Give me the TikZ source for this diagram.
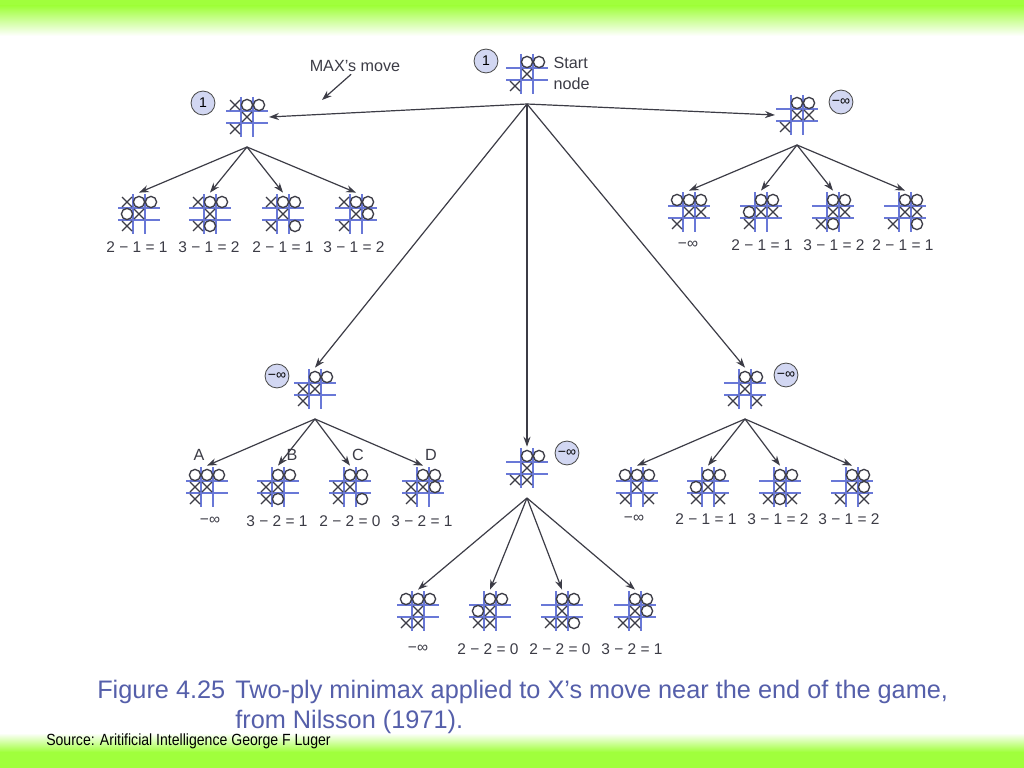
\documentclass[tikz,border=0pt]{standalone}
\usepackage{fontspec}
\setmainfont{Liberation Sans}
\usetikzlibrary{arrows.meta,positioning}
\definecolor{barGreen}{RGB}{160,255,60}
\definecolor{gridBlue}{RGB}{105,120,215}
\definecolor{inkGray}{RGB}{60,60,70}
\definecolor{capBlue}{RGB}{85,95,170}
\definecolor{discFill}{RGB}{210,215,242}
\tikzset{
  boardbox/.style={minimum width=31pt, minimum height=30pt, inner sep=0pt},
  gridline/.style={gridBlue, line width=0.9pt},
  markline/.style={inkGray, line width=0.95pt},
  edge/.style={inkGray, line width=0.85pt, -{Stealth[length=7pt,width=5pt]}},
  disc/.style={circle, draw=gray!60!black, fill=discFill, line width=0.6pt,
    minimum size=17pt, inner sep=0pt, font=\fontsize{10}{11}\selectfont},
  score/.style={inkGray, inner sep=1pt, font=\fontsize{11}{13}\selectfont},
  note/.style={inkGray, inner sep=1pt, font=\fontsize{11.5}{13}\selectfont},
  caption/.style={capBlue, inner sep=0pt, anchor=west, font=\fontsize{18}{21}\selectfont},
  pics/markx/.style={code={\draw[markline] (-5,-5) -- (5,5) (-5,5) -- (5,-5);}},
  pics/marko/.style={code={\draw[markline] (0,0) circle[radius=5.6];}},
  pics/markn/.style={code={}},
}
% board: name, x, y, nine cells (x, o or n) row by row
\newcommand{\tttboard}[4]{%
  \node[boardbox] (#1) at (#2,#3) {};
  \coordinate (#1-root) at (#2,#3+30);
  \begin{scope}[shift={(#2,#3)}]
    \draw[gridline] (-21,-6) -- (21,-6) (-21,6) -- (21,6)
      (-6,-20) -- (-6,20) (6,-20) -- (6,20);
    \foreach \m [count=\i from 0] in {#4}
      \pic at ({12*(mod(\i,3)-1)},{12*(int(\i/3)-1)}) {mark\m};
  \end{scope}}
\begin{document}
\begin{tikzpicture}[x=0.025cm,y=-0.025cm]
  \useasboundingbox (0,0) rectangle (1024,768);
  \fill[white] (0,0) rectangle (1024,768);
  \fill[barGreen] (0,0) rectangle (1024,6);
  \shade[top color=barGreen, bottom color=white] (0,6) rectangle (1024,36);
  \shade[top color=white, bottom color=barGreen] (0,733) rectangle (1024,752);
  \fill[barGreen] (0,752) rectangle (1024,768);

  % start node
  \tttboard{start}{527}{74}{n,o,o,n,x,n,x,n,n}
  \node[disc] (startval) at (486,61) {1};
  \node[note,anchor=west] (startlbl) at (552,63) {Start};
  \node[note,anchor=west] (nodelbl) at (552,84) {node};
  \node[note] (maxmove) at (355,66) {MAX's move};
  \coordinate (maxtip) at (322,100);
  \draw[edge,shorten <=1pt] ([xshift=-2pt]maxmove.south) -- (maxtip);

  % MAX's moves
  \tttboard{lmove}{247}{117}{x,o,o,n,x,n,x,n,n}
  \node[disc] (lval) at (203,103) {1};
  \tttboard{rmove}{797}{115}{n,o,o,n,x,x,x,n,n}
  \node[disc] (rval) at (841,102) {−∞};
  \tttboard{mleft}{315}{389}{n,o,o,x,x,n,x,n,n}
  \node[disc] (mlval) at (277,376) {−∞};
  \tttboard{mmid}{527}{468}{n,o,o,n,x,n,x,x,n}
  \node[disc] (mmval) at (567,453) {−∞};
  \tttboard{mright}{745}{389}{n,o,o,n,x,n,x,n,x}
  \node[disc] (mrval) at (786,375) {−∞};

  % MIN's replies
  \tttboard{la}{139}{214}{x,o,o,o,x,n,x,n,n}
  \tttboard{lb}{210}{214}{x,o,o,n,x,n,x,o,n}
  \tttboard{lc}{283}{214}{x,o,o,n,x,n,x,n,o}
  \tttboard{ld}{356}{214}{x,o,o,n,x,o,x,n,n}
  \node[score] (las) at (137,247) {2 − 1 = 1};
  \node[score] (lbs) at (209,247) {3 − 1 = 2};
  \node[score] (lcs) at (283,247) {2 − 1 = 1};
  \node[score] (lds) at (354,247) {3 − 1 = 2};

  \tttboard{ra}{689}{212}{o,o,o,n,x,x,x,n,n}
  \tttboard{rb}{761}{212}{n,o,o,o,x,x,x,n,n}
  \tttboard{rc}{833}{212}{n,o,o,n,x,x,x,o,n}
  \tttboard{rd}{905}{212}{n,o,o,n,x,x,x,n,o}
  \node[score] (ras) at (688,245) {−∞};
  \node[score] (rbs) at (762,245) {2 − 1 = 1};
  \node[score] (rcs) at (834,245) {3 − 1 = 2};
  \node[score] (rds) at (903,245) {2 − 1 = 1};

  \tttboard{ma}{207}{487}{o,o,o,x,x,n,x,n,n}
  \tttboard{mb}{278}{487}{n,o,o,x,x,n,x,o,n}
  \tttboard{mc}{350}{487}{n,o,o,x,x,n,x,n,o}
  \tttboard{md}{423}{487}{n,o,o,x,x,o,x,n,n}
  \node[note] (lettera) at (199,455) {A};
  \node[note] (letterb) at (292,455) {B};
  \node[note] (letterc) at (358,455) {C};
  \node[note] (letterd) at (431,455) {D};
  \node[score] (mas) at (210,521) {−∞};
  \node[score] (mbs) at (277,521) {3 − 2 = 1};
  \node[score] (mcs) at (350,521) {2 − 2 = 0};
  \node[score] (mds) at (422,521) {3 − 2 = 1};

  \tttboard{na}{418}{611}{o,o,o,n,x,n,x,x,n}
  \tttboard{nb}{490}{611}{n,o,o,o,x,n,x,x,n}
  \tttboard{nc}{562}{611}{n,o,o,n,x,n,x,x,o}
  \tttboard{nd}{635}{611}{n,o,o,n,x,o,x,x,n}
  \node[score] (nas) at (418,649) {−∞};
  \node[score] (nbs) at (488,649) {2 − 2 = 0};
  \node[score] (ncs) at (560,649) {2 − 2 = 0};
  \node[score] (nds) at (632,649) {3 − 2 = 1};

  \tttboard{qa}{637}{487}{o,o,o,n,x,n,x,n,x}
  \tttboard{qb}{708}{487}{n,o,o,o,x,n,x,n,x}
  \tttboard{qc}{780}{487}{n,o,o,n,x,n,x,o,x}
  \tttboard{qd}{852}{487}{n,o,o,n,x,o,x,n,x}
  \node[score] (qas) at (634,519) {−∞};
  \node[score] (qbs) at (706,519) {2 − 1 = 1};
  \node[score] (qcs) at (778,519) {3 − 1 = 2};
  \node[score] (qds) at (849,519) {3 − 1 = 2};

  \begin{scope}
    \draw[edge] (start-root) to (lmove.east);
    \draw[edge] (start-root) to (rmove.west);
    \draw[edge] (start-root) to (mleft.north);
    \draw[edge] (start-root) to (mmid.north);
    \draw[edge] (start-root) to (mright.north);
    \foreach \c in {la,lb,lc,ld} \draw[edge] (lmove-root) to (\c.north);
    \foreach \c in {ra,rb,rc,rd} \draw[edge] (rmove-root) to (\c.north);
    \foreach \c in {ma,mb,mc,md} \draw[edge] (mleft-root) to (\c.north);
    \foreach \c in {na,nb,nc,nd} \draw[edge] (mmid-root) to (\c.north);
    \foreach \c in {qa,qb,qc,qd} \draw[edge] (mright-root) to (\c.north);
  \end{scope}

  % caption
  \node[caption] (figno) at (97,692) {Figure 4.25};
  \node[caption] (figline) at (235,692) {Two-ply minimax applied to X's move near the end of the game,};
  \node[caption] (figline2) at (235,722) {from Nilsson (1971).};
  \node[anchor=west, inner sep=0pt, font=\fontsize{11.5}{13}\selectfont] (source) at (46,741)
    {\scalebox{0.87}[1]{Source: Aritificial Intelligence George F Luger}};
\end{tikzpicture}
\end{document}
